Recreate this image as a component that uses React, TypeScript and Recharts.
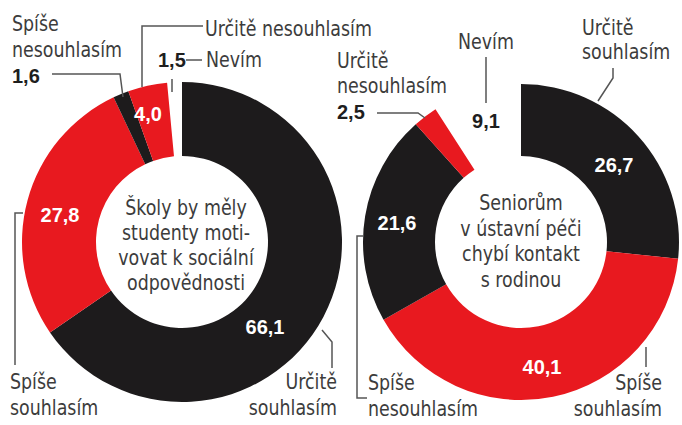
import React from "react";
import { PieChart, Pie, Cell } from "recharts";

const CATEGORIES = [
  "Určitě souhlasím",
  "Spíše souhlasím",
  "Spíše nesouhlasím",
  "Určitě nesouhlasím",
  "Nevím",
];
const SCHOOLS_VALUES = [66.1, 27.8, 1.6, 4.0, 1.5];
const SENIORS_VALUES = [26.7, 40.1, 21.6, 2.5, 9.1];
const SCHOOLS_TITLE = ["Školy by měly", "studenty moti-", "vovat k sociální", "odpovědnosti"];
const SENIORS_TITLE = ["Seniorům", "v ústavní péči", "chybí kontakt", "s rodinou"];

const RED = "#e8191f";
const BLACK = "#1d1b1c";
const SLICE_COLORS = [BLACK, RED, BLACK, RED, "transparent"];

const LABEL_FONT = "'DejaVu Sans Condensed', 'Liberation Sans Narrow', sans-serif";
const VALUE_FONT = "'Liberation Sans', Arial, sans-serif";
const TEXT_GRAY = "#3c3c3c";
const LINE_GRAY = "#555";
// the print font is a narrow grotesque, squeeze the condensed one a bit more
const SQUEEZE = 0.88;

const fmt = (v: number) => v.toFixed(1).replace(".", ",");

const toRows = (values: number[]) =>
  CATEGORIES.map((name, i) => ({ name, value: values[i] }));

function Lines({
  x,
  y,
  lines,
  anchor = "start",
  size = 22,
  step = 26,
}: {
  x: number;
  y: number;
  lines: string[];
  anchor?: "start" | "middle" | "end";
  size?: number;
  step?: number;
}) {
  return (
    <g transform={`translate(${x} ${y}) scale(${SQUEEZE} 1)`}>
      <text x={0} y={0} textAnchor={anchor} fontFamily={LABEL_FONT} fontSize={size} fill={TEXT_GRAY}>
        {lines.map((l, i) => (
          <tspan key={i} x={0} dy={i === 0 ? 0 : step}>
            {l}
          </tspan>
        ))}
      </text>
    </g>
  );
}

function Value({
  x,
  y,
  v,
  white = false,
  anchor = "middle",
}: {
  x: number;
  y: number;
  v: number;
  white?: boolean;
  anchor?: "start" | "middle" | "end";
}) {
  return (
    <text
      x={x}
      y={y}
      textAnchor={anchor}
      fontFamily={VALUE_FONT}
      fontWeight="bold"
      fontSize={20}
      fill={white ? "#fff" : "#1e1e1e"}
    >
      {fmt(v)}
    </text>
  );
}

function Leader({ d }: { d: string }) {
  return <path d={d} fill="none" stroke={LINE_GRAY} strokeWidth={1.5} />;
}

function Annotations() {
  const s = SCHOOLS_VALUES;
  const r = SENIORS_VALUES;
  return (
    <svg
      width={682}
      height={425}
      style={{ position: "absolute", left: 0, top: 0, pointerEvents: "none" }}
    >
      {/* left donut */}
      <Lines x={186} y={215} lines={SCHOOLS_TITLE} anchor="middle" step={25} />
      <Lines x={12} y={31} lines={["Spíše", "nesouhlasím"]} />
      <Value x={12} y={83} v={s[2]} anchor="start" />
      <Leader d="M52 74 H120 L123 97" />
      <Lines x={205} y={36} lines={["Určitě nesouhlasím"]} />
      <Leader d="M203 26 H142 V87" />
      <Value x={158} y={67} v={s[4]} anchor="start" />
      <Leader d="M186 60 H202" />
      <Lines x={206} y={67} lines={["Nevím"]} />
      <Leader d="M172 79 V92" />
      <Value x={148} y={121} v={s[3]} white />
      <Value x={60} y={222} v={s[1]} white />
      <Leader d="M23 213 H15 V365" />
      <Lines x={10} y={389} lines={["Spíše", "souhlasím"]} />
      <Value x={265} y={334} v={s[0]} white />
      <Leader d="M322 330 L332 342 V368" />
      <Lines x={337} y={389} lines={["Určitě", "souhlasím"]} anchor="end" />

      {/* right donut */}
      <Lines x={521} y={210} lines={SENIORS_TITLE} anchor="middle" step={25.7} />
      <Lines x={337} y={68} lines={["Určitě", "nesouhlasím"]} step={25} />
      <Value x={337} y={119} v={r[3]} anchor="start" />
      <Leader d="M377 113 H418 L425 118" />
      <Lines x={486} y={49} lines={["Nevím"]} anchor="middle" />
      <Leader d="M486 57 V103" />
      <Value x={486} y={128} v={r[4]} />
      <Lines x={582} y={35} lines={["Určitě", "souhlasím"]} step={24} />
      <Leader d="M613 68 V78 L598 101" />
      <Value x={614} y={172} v={r[0]} white />
      <Value x={397} y={230} v={r[2]} white />
      <Leader d="M363 236 H357 V398 H367" />
      <Lines x={368} y={390} lines={["Spíše", "nesouhlasím"]} />
      <Value x={542} y={374} v={r[1]} white />
      <Leader d="M646 347 V367" />
      <Lines x={662} y={390} lines={["Spíše", "souhlasím"]} anchor="end" />
    </svg>
  );
}

export default function App() {
  return (
    <div style={{ position: "absolute", left: 0, top: 0, width: 682, height: 425, background: "#fff" }}>
      <PieChart width={682} height={425} margin={{ top: 0, right: 0, bottom: 0, left: 0 }}>
        <Pie
          data={toRows(SCHOOLS_VALUES)}
          dataKey="value"
          nameKey="name"
          cx={182}
          cy={242}
          innerRadius={86}
          outerRadius={160}
          startAngle={90}
          endAngle={-270}
          stroke="none"
          isAnimationActive={false}
        >
          {SCHOOLS_VALUES.map((_, i) => (
            <Cell key={i} fill={SLICE_COLORS[i]} />
          ))}
        </Pie>
        <Pie
          data={toRows(SENIORS_VALUES)}
          dataKey="value"
          nameKey="name"
          cx={521}
          cy={242}
          innerRadius={86}
          outerRadius={158}
          startAngle={90}
          endAngle={-270}
          stroke="none"
          isAnimationActive={false}
        >
          {SENIORS_VALUES.map((_, i) => (
            <Cell key={i} fill={SLICE_COLORS[i]} />
          ))}
        </Pie>
      </PieChart>
      <Annotations />
    </div>
  );
}
